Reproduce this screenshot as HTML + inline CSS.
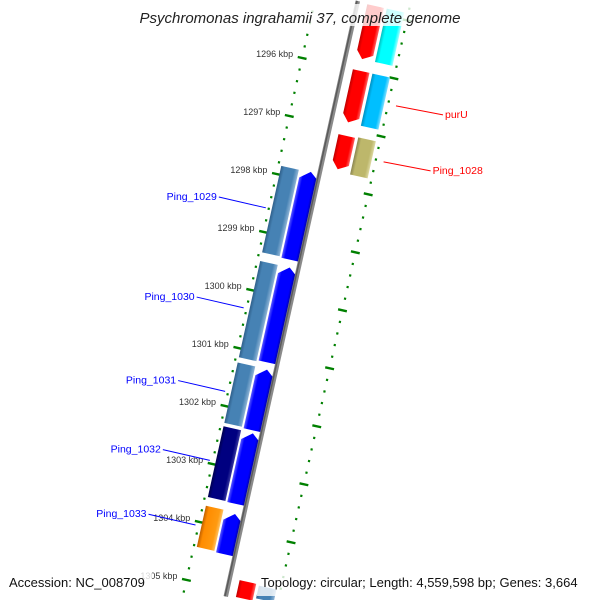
<!DOCTYPE html>
<html><head><meta charset="utf-8"><style>
html,body{margin:0;padding:0;background:#fff;width:600px;height:600px;overflow:hidden;}
svg{display:block;font-family:"Liberation Sans","DejaVu Sans",sans-serif;}
</style></head><body>
<svg id="map" width="600" height="600" viewBox="0 0 600 600" xmlns="http://www.w3.org/2000/svg" style="overflow:hidden">
<defs>
<clipPath id="clipAll"><rect x="0" y="0" width="600" height="600"/></clipPath>
<linearGradient id="gBlue" x1="0" x2="1" y1="0" y2="0"><stop offset="0" stop-color="#5a5aff"/><stop offset="0.2" stop-color="#0000ff"/><stop offset="0.85" stop-color="#0000ff"/><stop offset="1" stop-color="#0000b0"/></linearGradient>
<linearGradient id="gSteel" x1="0" x2="1" y1="0" y2="0"><stop offset="0" stop-color="#2f5f8a"/><stop offset="0.2" stop-color="#4682b4"/><stop offset="0.75" stop-color="#4682b4"/><stop offset="1" stop-color="#8fb4d6"/></linearGradient>
<linearGradient id="gNavy" x1="0" x2="1" y1="0" y2="0"><stop offset="0" stop-color="#000050"/><stop offset="0.2" stop-color="#000080"/><stop offset="0.8" stop-color="#000080"/><stop offset="1" stop-color="#3a3aa0"/></linearGradient>
<linearGradient id="gOrange" x1="0" x2="1" y1="0" y2="0"><stop offset="0" stop-color="#c06000"/><stop offset="0.2" stop-color="#ff8c00"/><stop offset="0.8" stop-color="#ff9a10"/><stop offset="1" stop-color="#ffc060"/></linearGradient>
<linearGradient id="gRed" x1="0" x2="1" y1="0" y2="0"><stop offset="0" stop-color="#c00000"/><stop offset="0.2" stop-color="#ff0000"/><stop offset="0.8" stop-color="#ff0000"/><stop offset="1" stop-color="#ff6060"/></linearGradient>
<linearGradient id="gCyan" x1="0" x2="1" y1="0" y2="0"><stop offset="0" stop-color="#00c0c0"/><stop offset="0.2" stop-color="#00ffff"/><stop offset="0.8" stop-color="#00ffff"/><stop offset="1" stop-color="#a0ffff"/></linearGradient>
<linearGradient id="gSky" x1="0" x2="1" y1="0" y2="0"><stop offset="0" stop-color="#0090c0"/><stop offset="0.2" stop-color="#00bfff"/><stop offset="0.8" stop-color="#00bfff"/><stop offset="1" stop-color="#80dfff"/></linearGradient>
<linearGradient id="gKhaki" x1="0" x2="1" y1="0" y2="0"><stop offset="0" stop-color="#8a8550"/><stop offset="0.2" stop-color="#bdb76b"/><stop offset="0.8" stop-color="#bdb76b"/><stop offset="1" stop-color="#dcd8a0"/></linearGradient>
</defs>
<g clip-path="url(#clipAll)">
<g id="rot" transform="translate(358,0) rotate(12.5)"></g>
<g id="over"></g>
</g>
</svg>
<script>
// ---- data ----
const tickStart = 1294.6;
const tickEnd = 1306.0;
const majorLabels = [1296, 1297, 1298, 1299, 1300, 1301, 1302, 1303, 1304, 1305];
const geneNames = ["top-red","top-cyan","purU","purU-partner","Ping_1028","Ping_1028-partner","Ping_1029","Ping_1029-blue","Ping_1030","Ping_1030-blue","Ping_1031","Ping_1031-blue","Ping_1032","Ping_1032-blue","Ping_1033","Ping_1033-blue","bottom-red","bottom-steel"];
const geneStarts = [1294.88,1294.88,1296.0,1296.0,1297.12,1297.1,1297.85,1297.84,1299.49,1299.49,1301.24,1301.25,1302.34,1302.35,1303.71,1303.74,1304.81,1304.83];
const geneEnds =   [1295.8,1295.8,1296.89,1296.9,1297.70,1297.74,1299.34,1299.36,1301.15,1301.13,1302.28,1302.3,1303.56,1303.57,1304.42,1304.44,1305.1,1305.05];
const geneTracks = [1,2,1,2,1,2,-2,-1,-2,-1,-2,-1,-2,-1,-2,-1,1,2];
const geneFills = ["gRed","gCyan","gRed","gSky","gRed","gKhaki","gSteel","gBlue","gSteel","gBlue","gSteel","gBlue","gNavy","gBlue","gOrange","gBlue","gRed","gSteel"];
const geneShapes = ["rev","rect","rev","rect","rev","rect","rect","fwd","rect","fwd","rect","fwd","rect","fwd","rect","fwd","rect","rect"];
const labelTexts = ["purU","Ping_1028","Ping_1029","Ping_1030","Ping_1031","Ping_1032","Ping_1033"];
const labelGene = [2,4,6,8,10,12,14];
const labelSide = [1,1,-1,-1,-1,-1,-1];

// ---- scales ----
const NS="http://www.w3.org/2000/svg";
const COS=Math.cos(12.5*Math.PI/180), SIN=Math.sin(12.5*Math.PI/180);
function vOf(k){return 68.7+(k-1296)*59.4;}
function scr(u,v){return [358+u*COS-v*SIN, u*SIN+v*COS];}
const trackU={"-2":[-39,-21],"-1":[-19,-2],"1":[10,27],"2":[30,48]};
const rot=document.getElementById('rot'), over=document.getElementById('over');
function mk(tag,attrs,parent){const e=document.createElementNS(NS,tag);for(const k in attrs)e.setAttribute(k,attrs[k]);parent.appendChild(e);return e;}

// backbone
let bb=mk('line',{x1:0,y1:1,x2:0,y2:611,stroke:'#8a8a8a','stroke-width':4.5},rot);


let bb2=mk('line',{x1:-0.8,y1:1,x2:-0.8,y2:611,stroke:'#5a5a5a','stroke-width':1.5},rot);



// ticks (minor every 0.2 kbp), only those inside the frame
const ringU=[-42,52];
for(let i=Math.round(tickStart*5);i<=Math.round(tickEnd*5);i++){
  const k=i/5, v=vOf(k);
  for(const u of ringU){
    const s=scr(u,v);
    if(s[1]<4||s[1]>596) continue;
    let t;
    if(i%5===0){t=mk('rect',{x:u-4.5,y:v-1.2,width:9,height:2.4,fill:'#008000'},rot);
      }
    else {t=mk('rect',{x:u-1.1,y:v-1.1,width:2.2,height:2.2,fill:'#008000'},rot);
      }
    
  }
}
majorLabels.forEach(k=>{
  const p=scr(-42,vOf(k));
  const t=mk('text',{x:p[0]-9,y:p[1]-1,'text-anchor':'end','font-size':9,fill:'#333'},over);
  t.textContent=k+' kbp';
  
  
});

// genes
geneNames.forEach((n,i)=>{
  const [u0,u1]=trackU[geneTracks[i]], v0=vOf(geneStarts[i]), v1=vOf(geneEnds[i]);
  const h=Math.min(8,(v1-v0)/3), s=geneShapes[i]; let pts;
  if(s==='fwd') pts=[[u0,v0+h],[u0+(u1-u0)*0.6,v0],[u1,v0+h*0.7],[u1,v1],[u0,v1]];
  else if(s==='rev') pts=[[u0,v0],[u1,v0],[u1,v1-h*0.7],[u0+(u1-u0)*0.4,v1],[u0,v1-h]];
  else pts=[[u0,v0],[u1,v0],[u1,v1],[u0,v1]];
  const g=mk('polygon',{points:pts.map(p=>p.join(',')).join(' '),fill:'url(#'+geneFills[i]+')'},rot);
  
  
});

// labels
labelTexts.forEach((txt,j)=>{
  const gi=labelGene[j], side=labelSide[j], vm=(vOf(geneStarts[gi])+vOf(geneEnds[gi]))/2;
  const p=scr(side>0?60:-45,vm), col=side>0?'#ff0000':'#0000ff';
  const ex=p[0]+side*47, ey=p[1]+9*(side>0?1:-1.2);
  const ln=mk('line',{x1:p[0],y1:p[1],x2:ex,y2:ey,stroke:col,'stroke-width':1},over);
  
  
  const t=mk('text',{x:ex+side*2,y:ey+3,'text-anchor':side>0?'start':'end','font-size':10.5,fill:col},over);
  t.textContent=txt;
  
  
});

// title & footer with translucent backgrounds
function band(x,y,w,h,name){const r=mk('rect',{x:x,y:y,width:w,height:h,fill:'#fff','fill-opacity':0.8},over);
  
  }
band(132,4,336,22,'title-background');
band(4,572,148,24,'accession-background');
band(257,572,338,24,'topology-background');
let tt=mk('text',{x:300,y:23,'text-anchor':'middle','font-size':15,'font-style':'italic',fill:'#222'},over);
tt.textContent='Psychromonas ingrahamii 37, complete genome';


let a=mk('text',{x:9,y:587,'font-size':13,fill:'#111'},over);
a.textContent='Accession: NC_008709';


let b=mk('text',{x:261,y:587,'font-size':13,fill:'#111'},over);
b.textContent='Topology: circular; Length: 4,559,598 bp; Genes: 3,664';


</script>
</body></html>
